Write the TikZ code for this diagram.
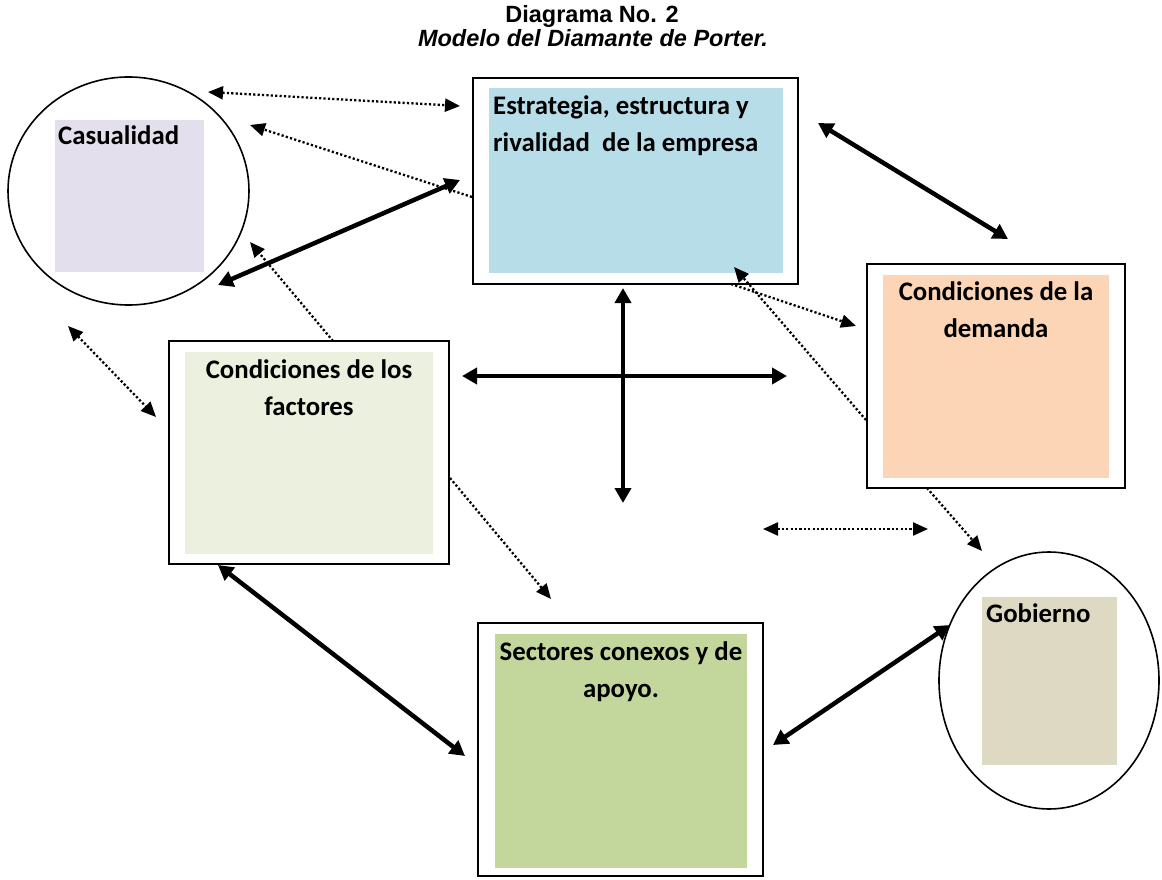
\documentclass[tikz,border=0pt]{standalone}
\usepackage{fontspec}
\setmainfont{Carlito}
\newfontfamily\titlefont{Liberation Sans}
\usetikzlibrary{arrows.meta,shapes.geometric}
\definecolor{casfill}{HTML}{E4DFEC}
\definecolor{estfill}{HTML}{B7DDE8}
\definecolor{demfill}{HTML}{FBD5B5}
\definecolor{facfill}{HTML}{EBF1DE}
\definecolor{secfill}{HTML}{C3D69B}
\definecolor{gobfill}{HTML}{DDD9C3}
\begin{document}
\begin{tikzpicture}[x=1pt,y=-1pt,
  outerbox/.style={draw, line width=2.2pt, fill=white, inner sep=0pt, rectangle},
  ring/.style={draw, line width=1.6pt, ellipse, inner sep=0pt, fill=white},
  lbl/.style={font=\bfseries\fontsize{26.8}{37}\selectfont, inner sep=0pt},
  ttl/.style={font=\titlefont\bfseries\fontsize{23.5}{24}\selectfont, inner sep=0pt, anchor=base},
  thickarr/.style={line width=4.5pt, {Triangle[length=15pt,width=16pt]}-{Triangle[length=15pt,width=16pt]}},
  dotline/.style={line width=2.3pt, dash pattern=on 2.2pt off 2.2pt},
  dothead/.style={dotline, -{Triangle[length=15pt,width=13pt]}},
  dotboth/.style={dotline, {Triangle[length=15pt,width=13pt]}-{Triangle[length=15pt,width=13pt]}}
]
\useasboundingbox (0,0) rectangle (1162,880);

% title
\node[ttl] (t1) at (592,23) {Diagrama No. 2};
\node[ttl, font=\titlefont\bfseries\itshape\fontsize{23.5}{24}\selectfont] (t2) at (593,47) {Modelo del Diamante de Porter.};

% Casualidad
\node[ring, minimum width=241pt, minimum height=228pt] (cas) at (128.5,191) {};
\fill[casfill] (55,120) rectangle (204,272);
\node[lbl, anchor=base west] (castxt) at (58,145) {Casualidad};

% Estrategia
\node[outerbox, minimum width=325pt, minimum height=206pt] (est) at (635.5,181) {};
\fill[estfill] (489,88) rectangle (783,273);
\node[lbl, anchor=north west, align=left] (esttxt) at (493,95) {Estrategia, estructura y\\rivalidad\ \ de la empresa};

% Demanda
\node[outerbox, minimum width=258pt, minimum height=224pt] (dem) at (996,376) {};
\fill[demfill] (883,275) rectangle (1109,478);
\node[lbl, anchor=north, align=center] (demtxt) at (996,281.5) {Condiciones de la\\demanda};

% Factores
\node[outerbox, minimum width=280pt, minimum height=223pt] (fac) at (309,452.5) {};
\fill[facfill] (185,352) rectangle (433,554);
\node[lbl, anchor=north, align=center] (factxt) at (309,359.5) {Condiciones de los\\factores};

% Sectores
\node[outerbox, minimum width=285pt, minimum height=253pt] (sec) at (620.5,749.5) {};
\fill[secfill] (495,634) rectangle (747,868);
\node[lbl, anchor=north, align=center] (sectxt) at (621,641.5) {Sectores conexos y de\\apoyo.};

% Gobierno
\node[ring, minimum width=220pt, minimum height=257pt] (gob) at (1049,680.5) {};
\fill[gobfill] (982,597) rectangle (1117,765);
\node[lbl, anchor=base west] (gobtxt) at (986,622) {Gobierno};

% connector end points
\coordinate (a1) at (208,92);   \coordinate (a2) at (460,106);
\coordinate (b1) at (472,197);  \coordinate (b2) at (250,125);
\coordinate (c1) at (333,341);  \coordinate (c2) at (250,242);
\coordinate (d1) at (68,326);   \coordinate (d2) at (156,417);
\coordinate (e1) at (450,478);  \coordinate (e2) at (551,599);
\coordinate (f1) at (866,420);  \coordinate (f2) at (734,267);
\coordinate (g1) at (731,284);  \coordinate (g2) at (856,326);
\coordinate (h1) at (763,529);  \coordinate (h2) at (928,529);
\coordinate (i1) at (927,488);  \coordinate (i2) at (982,551);
\coordinate (T1a) at (218,285); \coordinate (T1b) at (460,180);
\coordinate (T2a) at (818,123); \coordinate (T2b) at (1008,239);
\coordinate (T3a) at (623,288); \coordinate (T3b) at (623,503);
\coordinate (T4a) at (462,376); \coordinate (T4b) at (787,376);
\coordinate (T5a) at (218,565); \coordinate (T5b) at (465,756);
\coordinate (T6a) at (773,745); \coordinate (T6b) at (950,625);

% thick connectors
\draw[thickarr] (T1a) -- (T1b);
\draw[thickarr] (T2a) -- (T2b);
\draw[thickarr] (T3a) -- (T3b);
\draw[thickarr] (T4a) -- (T4b);
\draw[thickarr] (T5a) -- (T5b);
\draw[thickarr] (T6a) -- (T6b);

% dotted connectors
\draw[dotboth] (a1) -- (a2);
\draw[dothead] (b1) -- (b2);
\draw[dothead] (c1) -- (c2);
\draw[dotboth] (d1) -- (d2);
\draw[dothead] (e1) -- (e2);
\draw[dothead] (f1) -- (f2);
\draw[dothead] (g1) -- (g2);
\draw[dotboth] (h1) -- (h2);
\draw[dothead] (i1) -- (i2);
\end{tikzpicture}
\end{document}
